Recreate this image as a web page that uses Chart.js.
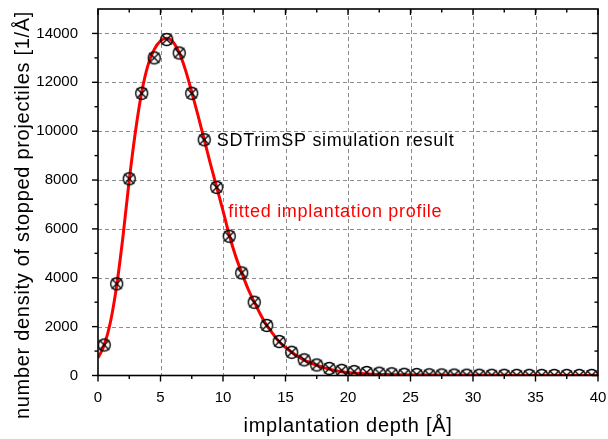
<!DOCTYPE html>
<html>
<head>
<meta charset="utf-8">
<script src="https://cdn.jsdelivr.net/npm/chart.js@4.4.1/dist/chart.umd.min.js"></script>
<style>
  html, body { margin: 0; padding: 0; background: #fff; }
  #wrap { width: 608px; height: 439px; }
</style>
</head>
<body>
<div id="wrap"><canvas id="chart" width="608" height="439"></canvas></div>
<script>
// SDTrimSP simulation result (markers)
const simDepth = [0.5, 1.5, 2.5, 3.5, 4.5, 5.5, 6.5, 7.5, 8.5, 9.5,
  10.5, 11.5, 12.5, 13.5, 14.5, 15.5, 16.5, 17.5, 18.5, 19.5,
  20.5, 21.5, 22.5, 23.5, 24.5, 25.5, 26.5, 27.5, 28.5, 29.5,
  30.5, 31.5, 32.5, 33.5, 34.5, 35.5, 36.5, 37.5, 38.5, 39.5];
const simDensity = [1250, 3750, 8050, 11550, 13000, 13750, 13200, 11550, 9650, 7700,
  5700, 4200, 3000, 2050, 1390, 950, 640, 430, 290, 210,
  160, 125, 95, 70, 50, 40, 30, 25, 20, 15,
  12, 10, 8, 7, 6, 5, 4, 4, 3, 3];

// fitted implantation profile (red line)
const fitDepth = [0, 0.5, 1, 1.5, 2, 2.5, 3, 3.5, 4, 4.5, 5, 5.5, 6, 6.5, 7, 7.5, 8, 8.5, 9, 9.5,
  10, 10.5, 11, 11.5, 12, 12.5, 13, 13.5, 14, 14.5, 15, 15.5, 16, 16.5, 17, 17.5, 18, 18.5, 19, 19.5,
  20, 21, 22, 23, 24, 26, 28, 30, 35, 40];
const fitDensity = [720, 1250, 2200, 3700, 5700, 8000, 10000, 11600, 12700, 13350, 13700, 13800, 13650, 13200, 12500, 11600, 10650, 9650, 8650, 7700,
  6750, 5750, 4900, 4200, 3550, 3000, 2500, 2050, 1700, 1380, 1150, 950, 780, 630, 520, 420, 330, 260, 200, 155,
  120, 80, 55, 40, 30, 18, 10, 6, 2, 0];

const xMajorTicks = [0, 5, 10, 15, 20, 25, 30, 35, 40];
const xMinorTicks = [2.5, 7.5, 12.5, 17.5, 22.5, 27.5, 32.5, 37.5];
const yMajorTicks = [0, 2000, 4000, 6000, 8000, 10000, 12000, 14000];
const yMinorTicks = [1000, 3000, 5000, 7000, 9000, 11000, 13000];

const FONT = "'Liberation Sans', Arial, sans-serif";
Chart.defaults.font.family = FONT;
Chart.defaults.color = '#000';

function makeMarker() {
  const c = document.createElement('canvas');
  c.width = 17; c.height = 17;
  const g = c.getContext('2d');
  g.strokeStyle = '#000';
  g.lineWidth = 1.4;
  g.beginPath();
  g.arc(8.5, 8.5, 6, 0, Math.PI * 2);
  g.stroke();
  g.beginPath();
  g.moveTo(3.5, 3.5); g.lineTo(13.5, 13.5);
  g.moveTo(13.5, 3.5); g.lineTo(3.5, 13.5);
  g.stroke();
  return c;
}

const toPoints = (xs, ys) => xs.map((x, i) => ({ x: x, y: ys[i] }));

// no label overhang padding, the frame is placed by layout.padding
const noPad = s => { s.paddingTop = 0; s.paddingBottom = 0; s.paddingLeft = 0; s.paddingRight = 0; };

// grid underneath, frame + ticks + texts on top
const framePlugin = {
  id: 'frame',
  beforeDatasetsDraw(chart) {
    const { ctx, chartArea: a, scales: { x, y } } = chart;
    ctx.save();
    ctx.strokeStyle = '#8c8c8c';
    ctx.lineWidth = 1;
    ctx.setLineDash([4, 3]);
    xMajorTicks.slice(1, -1).forEach(v => {
      const px = Math.round(x.getPixelForValue(v)) + 0.5;
      ctx.beginPath(); ctx.moveTo(px, a.top); ctx.lineTo(px, a.bottom); ctx.stroke();
    });
    yMajorTicks.slice(1).forEach(v => {
      const py = Math.round(y.getPixelForValue(v)) + 0.5;
      ctx.beginPath(); ctx.moveTo(a.left, py); ctx.lineTo(a.right, py); ctx.stroke();
    });
    ctx.restore();
  },
  afterDatasetsDraw(chart) {
    const { ctx, chartArea: a, scales: { x, y } } = chart;
    ctx.save();
    ctx.strokeStyle = '#000';
    ctx.lineWidth = 1.6;
    ctx.strokeRect(a.left, a.top, a.right - a.left, a.bottom - a.top);
    ctx.lineWidth = 1.4;
    const tick = (x1, y1, x2, y2) => { ctx.beginPath(); ctx.moveTo(x1, y1); ctx.lineTo(x2, y2); ctx.stroke(); };
    xMajorTicks.forEach(v => {
      const px = x.getPixelForValue(v);
      tick(px, a.bottom, px, a.bottom + 6);
      tick(px, a.top, px, a.top + 6);
    });
    xMinorTicks.forEach(v => {
      const px = x.getPixelForValue(v);
      tick(px, a.bottom, px, a.bottom + 3.5);
      tick(px, a.top, px, a.top + 3.5);
    });
    yMajorTicks.forEach(v => {
      const py = y.getPixelForValue(v);
      tick(a.left, py, a.left - 6, py);
      tick(a.right, py, a.right - 6, py);
    });
    yMinorTicks.forEach(v => {
      const py = y.getPixelForValue(v);
      tick(a.left, py, a.left - 3.5, py);
      tick(a.right, py, a.right - 3.5, py);
    });

    // annotations
    ctx.font = '18px ' + FONT;
    ctx.letterSpacing = '0.7px';
    ctx.textBaseline = 'alphabetic';
    ctx.textAlign = 'left';
    ctx.fillStyle = '#000';
    ctx.fillText('SDTrimSP simulation result', x.getPixelForValue(9.5), y.getPixelForValue(9400));
    ctx.fillStyle = '#ff0000';
    ctx.fillText('fitted implantation profile', x.getPixelForValue(10.42), y.getPixelForValue(6500));

    // axis titles
    ctx.fillStyle = '#000';
    ctx.font = '20px ' + FONT;
    ctx.letterSpacing = '0.7px';
    ctx.textAlign = 'center';
    ctx.fillText('implantation depth [Å]', (a.left + a.right) / 2, 432);
    ctx.translate(29, 215);
    ctx.rotate(-Math.PI / 2);
    ctx.fillText('number density of stopped projectiles [1/Å]', 0, 0);
    ctx.restore();
  }
};

new Chart(document.getElementById('chart'), {
  type: 'scatter',
  data: {
    datasets: [
      {
        label: 'SDTrimSP simulation result',
        data: toPoints(simDepth, simDensity),
        pointStyle: makeMarker(),
        pointRadius: 6,
        clip: 0
      },
      {
        label: 'fitted implantation profile',
        data: toPoints(fitDepth, fitDensity),
        showLine: true,
        borderColor: '#ff0000',
        borderWidth: 3,
        pointRadius: 0,
        cubicInterpolationMode: 'monotone',
        clip: 0
      }
    ]
  },
  options: {
    responsive: false,
    animation: false,
    devicePixelRatio: 1,
    layout: { autoPadding: false, padding: { top: 9, right: 10, left: 0, bottom: 0 } },
    plugins: { legend: { display: false }, tooltip: { enabled: false } },
    scales: {
      x: {
        type: 'linear',
        min: 0, max: 40,
        afterBuildTicks: s => { s.ticks = xMajorTicks.map(v => ({ value: v })); },
        afterFit: s => { s.height = 63.5; noPad(s); },
        grid: { display: false, drawTicks: false },
        border: { display: false },
        ticks: { font: { size: 15 }, color: '#000', padding: 13, maxRotation: 0, autoSkip: false, callback: v => String(v) }
      },
      y: {
        type: 'linear',
        min: 0, max: 15000,
        afterBuildTicks: s => { s.ticks = yMajorTicks.map(v => ({ value: v })); },
        afterFit: s => { s.width = 98; noPad(s); },
        grid: { display: false, drawTicks: false },
        border: { display: false },
        ticks: { font: { size: 15 }, color: '#000', padding: 20, autoSkip: false, callback: v => String(v) }
      }
    }
  },
  plugins: [framePlugin]
});
</script>
</body>
</html>
